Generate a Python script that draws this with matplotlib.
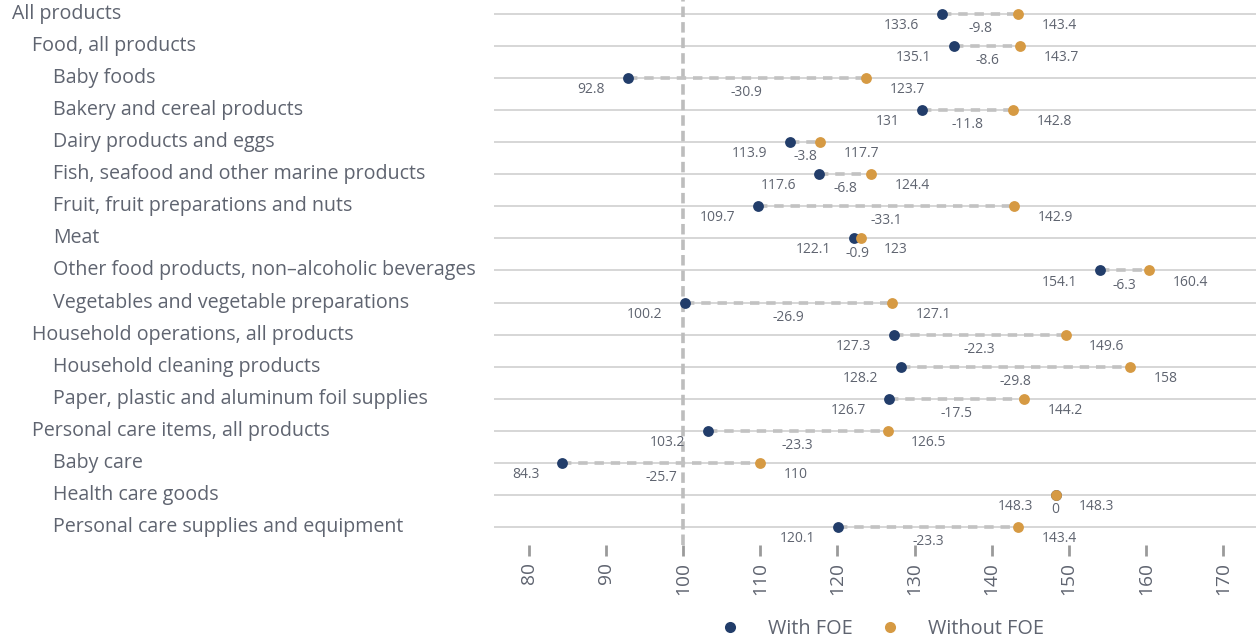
import matplotlib
matplotlib.use("Agg")
import matplotlib.pyplot as plt
from matplotlib.lines import Line2D

categories = [
    "All products", "Food, all products", "Baby foods", "Bakery and cereal products",
    "Dairy products and eggs", "Fish, seafood and other marine products",
    "Fruit, fruit preparations and nuts", "Meat",
    "Other food products, non\u2013alcoholic beverages",
    "Vegetables and vegetable preparations", "Household operations, all products",
    "Household cleaning products", "Paper, plastic and aluminum foil supplies",
    "Personal care items, all products", "Baby care", "Health care goods",
    "Personal care supplies and equipment",
]
levels = [0, 1, 2, 2, 2, 2, 2, 2, 2, 2, 1, 2, 2, 1, 2, 2, 2]
with_foe = [133.6, 135.1, 92.8, 131, 113.9, 117.6, 109.7, 122.1, 154.1, 100.2,
            127.3, 128.2, 126.7, 103.2, 84.3, 148.3, 120.1]
without_foe = [143.4, 143.7, 123.7, 142.8, 117.7, 124.4, 142.9, 123, 160.4, 127.1,
               149.6, 158, 144.2, 126.5, 110, 148.3, 143.4]
diff_labels = ["-9.8", "-8.6", "-30.9", "-11.8", "-3.8", "-6.8", "-33.1", "-0.9", "-6.3",
               "-26.9", "-22.3", "-29.8", "-17.5", "-23.3", "-25.7", "0", "-23.3"]
with_labels = ["133.6", "135.1", "92.8", "131", "113.9", "117.6", "109.7", "122.1", "154.1",
               "100.2", "127.3", "128.2", "126.7", "103.2", "84.3", "148.3", "120.1"]
without_labels = ["143.4", "143.7", "123.7", "142.8", "117.7", "124.4", "142.9", "123", "160.4",
                  "127.1", "149.6", "158", "144.2", "126.5", "110", "148.3", "143.4"]
xticks = [80, 90, 100, 110, 120, 130, 140, 150, 160, 170]

NAVY = "#223d6a"
GOLD = "#d69a43"
TXT = "#5f6470"
FONT = ["Open Sans", "DejaVu Sans"]
plt.rcParams["font.family"] = FONT

W, H = 1256, 641
fig = plt.figure(figsize=(W / 100, H / 100), dpi=100)
ax_left, ax_right = 494 / W, 1.0
ax_top_px, ax_bot_px = 0, 545
ax = fig.add_axes([ax_left, 1 - ax_bot_px / H, ax_right - ax_left, (ax_bot_px - ax_top_px) / H])

n = len(categories)
row0, step = 14, 32.06
ymin_idx = (ax_top_px - row0) / step
ymax_idx = (ax_bot_px - row0) / step
ax.set_ylim(ymax_idx, ymin_idx)
ax.set_xlim(75.45, 174.3)

for s in ax.spines.values():
    s.set_visible(False)
ax.set_yticks([])

# horizontal gridlines
for i in range(n):
    ax.axhline(i, color="#cfcfcf", lw=1.2, zorder=0)

# reference line at 100
ax.axvline(100, color="#bdbdbd", lw=2.6, ls=(0, (2.9, 1.4)), zorder=1)

for i in range(n):
    ax.plot([with_foe[i], without_foe[i]], [i, i], color="#c2c2c2", lw=2.6,
            ls=(0, (2.6, 1.9)), zorder=2, solid_capstyle="butt")
    ax.plot(with_foe[i], i, "o", color=NAVY, ms=7.8, mec="none", zorder=3)
    ax.plot(without_foe[i], i, "o", color=GOLD, ms=7.8, mec="none", zorder=4)
    ax.annotate(with_labels[i], (with_foe[i], i), xytext=(-16.5, -8.3), textcoords="offset points",
                ha="right", va="center", fontsize=10, color=TXT)
    ax.annotate(without_labels[i], (without_foe[i], i), xytext=(17, -8.3), textcoords="offset points",
                ha="left", va="center", fontsize=10, color=TXT)
    mid = (with_foe[i] + without_foe[i]) / 2
    ax.annotate(diff_labels[i], (mid, i), xytext=(0, -10.5), textcoords="offset points",
                ha="center", va="center", fontsize=10, color=TXT)

# category labels
indent = {0: 12, 1: 32, 2: 53}
for i, (c, lv) in enumerate(zip(categories, levels)):
    ypx = row0 + step * i
    fig.text(indent[lv] / W, 1 - ypx / H, c, ha="left", va="center", fontsize=14.1, color=TXT)

ax.set_xticks(xticks)
ax.set_xticklabels([str(t) for t in xticks], rotation=90, fontsize=13.8, color=TXT)
ax.tick_params(axis="x", length=8, width=2, color="#9a9a9a", pad=4, direction="out")

handles = [
    Line2D([], [], marker="o", ls="none", color=NAVY, ms=8, mec="none", label="With FOE"),
    Line2D([], [], marker="o", ls="none", color=GOLD, ms=8, mec="none", label="Without FOE"),
]
leg = fig.legend(handles=handles, loc="center", bbox_to_anchor=(882 / W, 1 - 629 / H),
                 ncol=2, frameon=False, fontsize=14.3, handlelength=1.0,
                 handletextpad=1.4, columnspacing=1.36)
for t in leg.get_texts():
    t.set_color(TXT)

fig.savefig("out.png", dpi=100)
